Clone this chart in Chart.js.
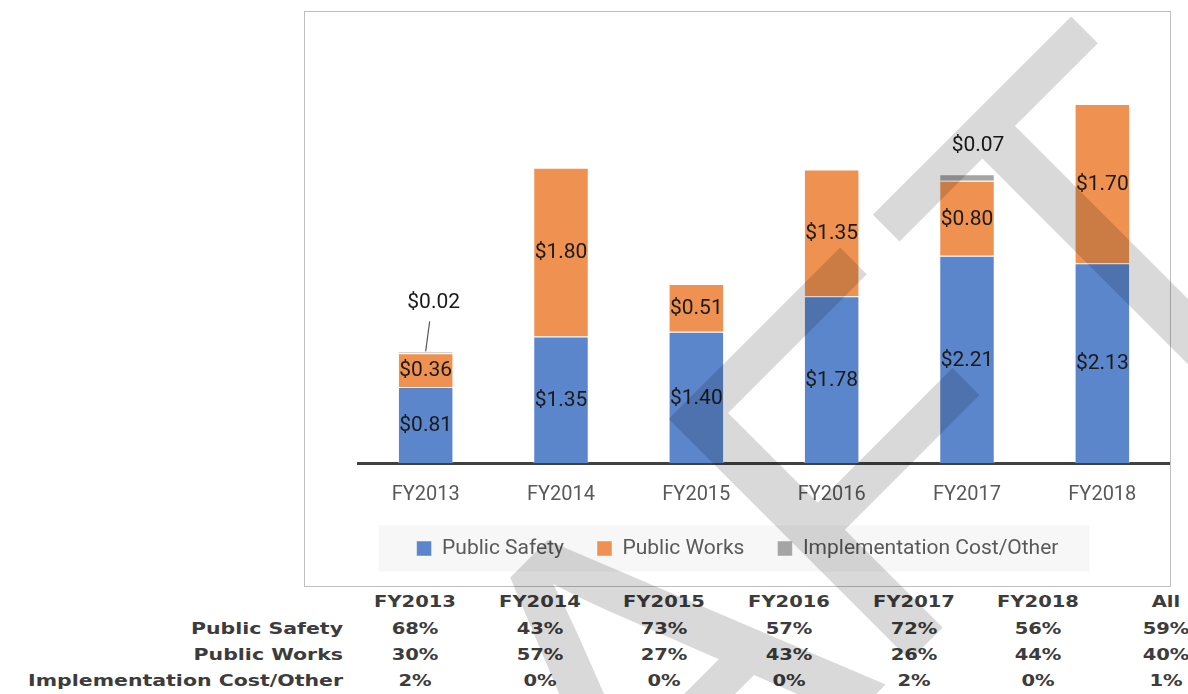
<!DOCTYPE html>
<html lang="en">
<head>
<meta charset="UTF-8">
<title>Funding by Fiscal Year</title>
<script src="https://cdn.jsdelivr.net/npm/chart.js"></script>
<style>
  body { margin: 0; background: #fff; width: 1188px; height: 694px; position: relative; overflow: hidden; }
  #chartBox { position: absolute; left: 304px; top: 11px; width: 865px; height: 574px; border: 1px solid #bfbfbf; background: #fff; }
  #pctTable div { position: absolute; height: 20px; line-height: 20px; font-family: "DejaVu Sans", sans-serif; font-weight: bold; font-size: 16px; color: #3c3c3c; white-space: nowrap; }
  #pctTable .c { width: 200px; text-align: center; transform: scaleX(1.22); transform-origin: center; }
  #pctTable .r { width: 400px; text-align: right; transform: scaleX(1.28); transform-origin: right center; }
  #wm { position: absolute; left: 0; top: 0; pointer-events: none; }
</style>
</head>
<body>
<div id="chartBox"><canvas id="fundChart" width="865" height="574"></canvas></div>
<div id="pctTable"></div>
<canvas id="wm" width="1188" height="694"></canvas>

<script>
// data
const years = ['FY2013', 'FY2014', 'FY2015', 'FY2016', 'FY2017', 'FY2018'];
const publicSafety = [0.81, 1.35, 1.40, 1.78, 2.21, 2.13];
const publicWorks = [0.36, 1.80, 0.51, 1.35, 0.80, 1.70];
const implOther = [0.02, 0, 0, 0, 0.07, 0];

// share table under the chart
const tableCols = ['FY2013', 'FY2014', 'FY2015', 'FY2016', 'FY2017', 'FY2018', 'All'];
const pctSafety = [68, 43, 73, 57, 72, 56, 59];
const pctWorks = [30, 57, 27, 43, 26, 44, 40];
const pctImpl = [2, 0, 0, 0, 2, 0, 1];

// layout / style bits
const colX = [415, 540, 664, 789, 914, 1038, 1166];
const rowY = [602, 629, 655, 681];
const calloutDx = [8, 0, 0, 0, 11, 0];
const calloutDy = [-49, 0, 0, 0, -29, 0];
const calloutLine = [true, false, false, false, false, false];

const valueLabels = {
    id: 'valueLabels',
    afterDatasetsDraw(chart) {
        const ctx = chart.ctx;
        ctx.save();
        ctx.font = '21px Roboto';
        ctx.textAlign = 'center';
        ctx.textBaseline = 'middle';
        chart.data.datasets.forEach((ds, di) => {
            const meta = chart.getDatasetMeta(di);
            meta.data.forEach((bar, i) => {
                const v = ds.data[i];
                if (!v) return;
                const txt = '$' + v.toFixed(2);
                ctx.fillStyle = '#1a1a1a';
                if (di < 2) {
                    ctx.fillText(txt, bar.x, (bar.y + bar.base) / 2 + 1);
                } else {
                    const lx = bar.x + calloutDx[i];
                    const ly = bar.y + calloutDy[i];
                    ctx.fillText(txt, lx, ly);
                    if (calloutLine[i]) {
                        ctx.strokeStyle = '#595959';
                        ctx.lineWidth = 1.2;
                        ctx.beginPath();
                        ctx.moveTo(bar.x + 4, ly + 19);
                        ctx.lineTo(bar.x, bar.y);
                        ctx.stroke();
                    }
                }
            });
        });
        ctx.restore();
    }
};

const legendBg = {
    id: 'legendBg',
    beforeDraw(chart) {
        const lg = chart.legend;
        if (!lg || !lg.legendHitBoxes.length) return;
        const hb = lg.legendHitBoxes;
        const last = hb[hb.length - 1];
        const left = hb[0].left - 38;
        const right = last.left + last.width + 31;
        const cy = hb[0].top + hb[0].height / 2;
        const ctx = chart.ctx;
        ctx.save();
        ctx.fillStyle = '#f7f7f7';
        ctx.fillRect(left, cy - 23, right - left, 46);
        ctx.restore();
    }
};

new Chart(document.getElementById('fundChart'), {
    type: 'bar',
    data: {
        labels: years,
        datasets: [
            { label: 'Public Safety', data: publicSafety, backgroundColor: '#5b86cc', borderColor: 'rgba(255,255,255,0.45)', borderWidth: 1 },
            { label: 'Public Works', data: publicWorks, backgroundColor: '#ef9150', borderColor: 'rgba(255,255,255,0.45)', borderWidth: 1 },
            { label: 'Implementation Cost/Other', data: implOther, backgroundColor: '#a5a5a5', borderColor: 'rgba(255,255,255,0.45)', borderWidth: 1 }
        ]
    },
    options: {
        responsive: false,
        animation: false,
        barPercentage: 0.41,
        categoryPercentage: 1,
        layout: { padding: { left: 0, right: 0, top: 76, bottom: 17 } },
        scales: {
            x: {
                stacked: true,
                grid: { display: false, drawTicks: false },
                border: { display: true, color: '#404040', width: 3 },
                ticks: {
                    color: '#595959',
                    padding: 0,
                    font: { family: 'Roboto', size: 20, lineHeight: 1.05 },
                    // empty first line pushes the label down without a tall axis box
                    callback: function (value) { return ['', this.getLabelForValue(value)]; }
                }
            },
            y: {
                stacked: true,
                min: 0,
                max: 4,
                grid: { display: false },
                border: { display: false },
                ticks: { display: false },
                afterFit: (scale) => { scale.width = 53; }
            }
        },
        plugins: {
            legend: {
                position: 'bottom',
                labels: { boxWidth: 15, boxHeight: 15, padding: 33, color: '#595959', font: { family: 'Roboto', size: 21 } }
            },
            tooltip: { enabled: false }
        }
    },
    plugins: [legendBg, valueLabels]
});

// percentage table
const tbl = document.getElementById('pctTable');
function cell(text, cls, x, y) {
    const d = document.createElement('div');
    d.className = cls;
    d.textContent = text;
    d.style.left = (cls === 'c' ? x - 100 : x - 400) + 'px';
    d.style.top = (y - 10) + 'px';
    tbl.appendChild(d);
}
tableCols.forEach((c, i) => cell(c, 'c', colX[i], rowY[0]));
[['Public Safety', pctSafety], ['Public Works', pctWorks], ['Implementation Cost/Other', pctImpl]].forEach((row, r) => {
    cell(row[0], 'r', 343, rowY[r + 1]);
    row[1].forEach((p, i) => cell(p + '%', 'c', colX[i], rowY[r + 1]));
});

// DRAFT watermark, letters placed one by one, rotated 45 degrees
const wm = document.getElementById('wm').getContext('2d');
wm.save();
wm.translate(662, 415);
wm.rotate(-Math.PI / 4);
wm.font = '496px "Liberation Sans"';
wm.fillStyle = 'rgba(0,0,0,0.15)';
const mF = wm.measureText('F');
const cap = mF.actualBoundingBoxAscent;
const xF = mF.actualBoundingBoxLeft;
const xT = 431 - wm.measureText('T').width / 2;
const xA = -197 - wm.measureText('A').width / 2;
const xR = xA - wm.measureText('R').width;
const xD = xR - wm.measureText('D').width;
wm.fillText('D', xD, cap);
wm.fillText('R', xR, cap);
wm.fillText('A', xA, cap);
wm.fillText('F', xF, cap);
wm.fillText('T', xT, cap);
wm.restore();
</script>
</body>
</html>
